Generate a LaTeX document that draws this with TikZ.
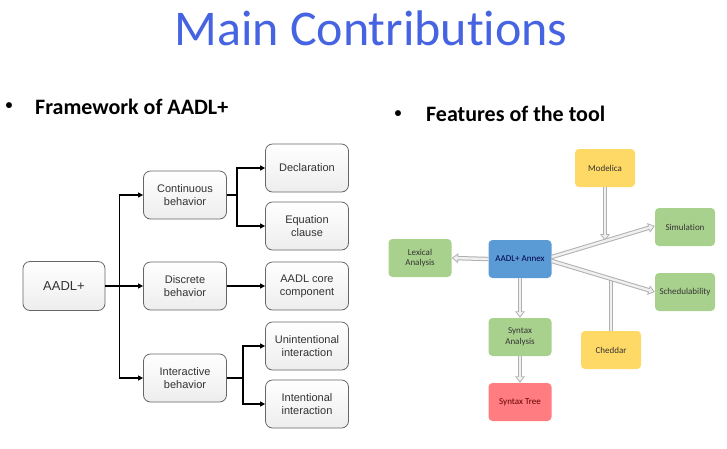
\documentclass[tikz,border=0pt]{standalone}
\usepackage{fontspec}
\setmainfont[Ligatures=NoCommon]{Carlito}
\newfontfamily\arialf{Liberation Sans}
\usetikzlibrary{arrows.meta,calc}
\definecolor{titleblue}{RGB}{70,100,225}
\definecolor{cyel}{HTML}{FFD966}
\definecolor{cgreen}{HTML}{A9D18E}
\definecolor{cblue}{HTML}{5B9BD5}
\definecolor{cred}{HTML}{FF7C80}
\definecolor{boxedge}{HTML}{666666}
\definecolor{harrow}{HTML}{B0B0B0}
\definecolor{harrowin}{HTML}{F0F0F0}
\begin{document}
\begin{tikzpicture}[x=1pt,y=-1pt,
  fbox/.style={draw=boxedge, line width=0.8pt, rounded corners=7pt,
    top color=white, bottom color=black!7, minimum width=83pt, minimum height=48pt,
    inner sep=0pt, align=center, font=\arialf\fontsize{11}{13}\selectfont, text=black!80},
  farr/.style={line width=1.2pt, -{Triangle[length=5pt,width=5pt]}},
  tbox/.style={rounded corners=4pt, minimum width=60pt, minimum height=38pt,
    inner sep=0pt, align=center, font=\fontsize{9}{10.5}\selectfont, text=black!80},
  harr/.style={line width=2.4pt, draw=harrowin, shorten >=1.6pt,
    -{Triangle[length=4pt,width=6pt]},
    preaction={draw=harrow, line width=4.4pt, shorten >=0pt, -{Triangle[length=6.5pt,width=9.5pt]}}},
  hline/.style={line width=2.4pt, draw=harrowin,
    preaction={draw=harrow, line width=4.4pt}},
  head/.style={font=\fontsize{22}{26}\selectfont\bfseries, anchor=base west, inner sep=0pt},
  bul/.style={font=\fontsize{14}{16}\selectfont\bfseries, anchor=center},
]
\useasboundingbox (0,0) rectangle (727,448);
% title and bullets
\node[text=titleblue, font=\fontsize{50}{56}\selectfont] (title) at (371,28) {Main Contributions};
\node[bul] (b1) at (9,106) {•};
\node[head] (h1) at (35,114) {Framework of AADL+};
\node[bul] (b2) at (398,114) {•};
\node[head] (h2) at (426,121) {Features of the tool};
% left diagram
\node[fbox, minimum width=82pt, minimum height=49pt, font=\arialf\fontsize{13}{15}\selectfont] (aadl) at (64,286) {AADL+};
\node[fbox] (cont) at (185,195) {Continuous\\behavior};
\node[fbox] (disc) at (185,286) {Discrete\\behavior};
\node[fbox] (inter) at (185,378) {Interactive\\behavior};
\node[fbox] (decl) at (307,168) {Declaration};
\node[fbox] (equ) at (307,226) {Equation\\clause};
\node[fbox] (core) at (307,286) {AADL core\\component};
\node[fbox] (unint) at (307,346) {Unintentional\\interaction};
\node[fbox] (intent) at (307,404) {Intentional\\interaction};
\draw[farr] (aadl.east) -- (disc.west);
\draw[farr] (aadl.east) -- ++(14,0) |- (cont.west);
\draw[farr] (aadl.east) -- ++(14,0) |- (inter.west);
\draw[farr] (cont.east) -- ++(10,0) |- (decl.west);
\draw[farr] (cont.east) -- ++(10,0) |- (equ.west);
\draw[farr] (disc.east) -- (core.west);
\draw[farr] (inter.east) -- ++(16,0) |- (unint.west);
\draw[farr] (inter.east) -- ++(16,0) |- (intent.west);
% right diagram
\node[tbox, fill=cyel] (mod) at (605,168) {Modelica};
\node[tbox, fill=cgreen] (sim) at (685,227) {Simulation};
\node[tbox, fill=cgreen, minimum width=63pt] (lex) at (420,258) {Lexical\\Analysis};
\node[tbox, fill=cblue, minimum width=63pt, text=blue!30!black] (ann) at (520,259) {AADL+ Annex};
\node[tbox, fill=cgreen] (sch) at (685,292) {Schedulability};
\node[tbox, fill=cgreen, minimum width=63pt] (syn) at (520,337) {Syntax\\Analysis};
\node[tbox, fill=cyel] (ched) at (611,350) {Cheddar};
\node[tbox, fill=cred, minimum width=63pt, text=red!40!black] (tree) at (520,402) {Syntax Tree};
\coordinate (s1) at ([yshift=2pt]ann.east);
\coordinate (s2) at ([yshift=-2pt]ann.east);
\coordinate (e1) at ([yshift=1pt]sim.west);
\coordinate (e2) at (sch.west);
\coordinate (jm) at ($(s1)!0.53!(e1)$);
\coordinate (jc) at ($(s2)!0.55!(e2)$);
\draw[harr] (ann.west) -- (lex.east);
\draw[harr] (ann.south) -- (syn.north);
\draw[harr] (syn.south) -- (tree.north);
\draw[harr] (mod.south) -- (mod.south |- jm);
\draw[hline] (ched.north) -- (ched.north |- jc);
\draw[harr] (s1) -- (e1);
\draw[harr] (s2) -- (e2);
\end{tikzpicture}
\end{document}
